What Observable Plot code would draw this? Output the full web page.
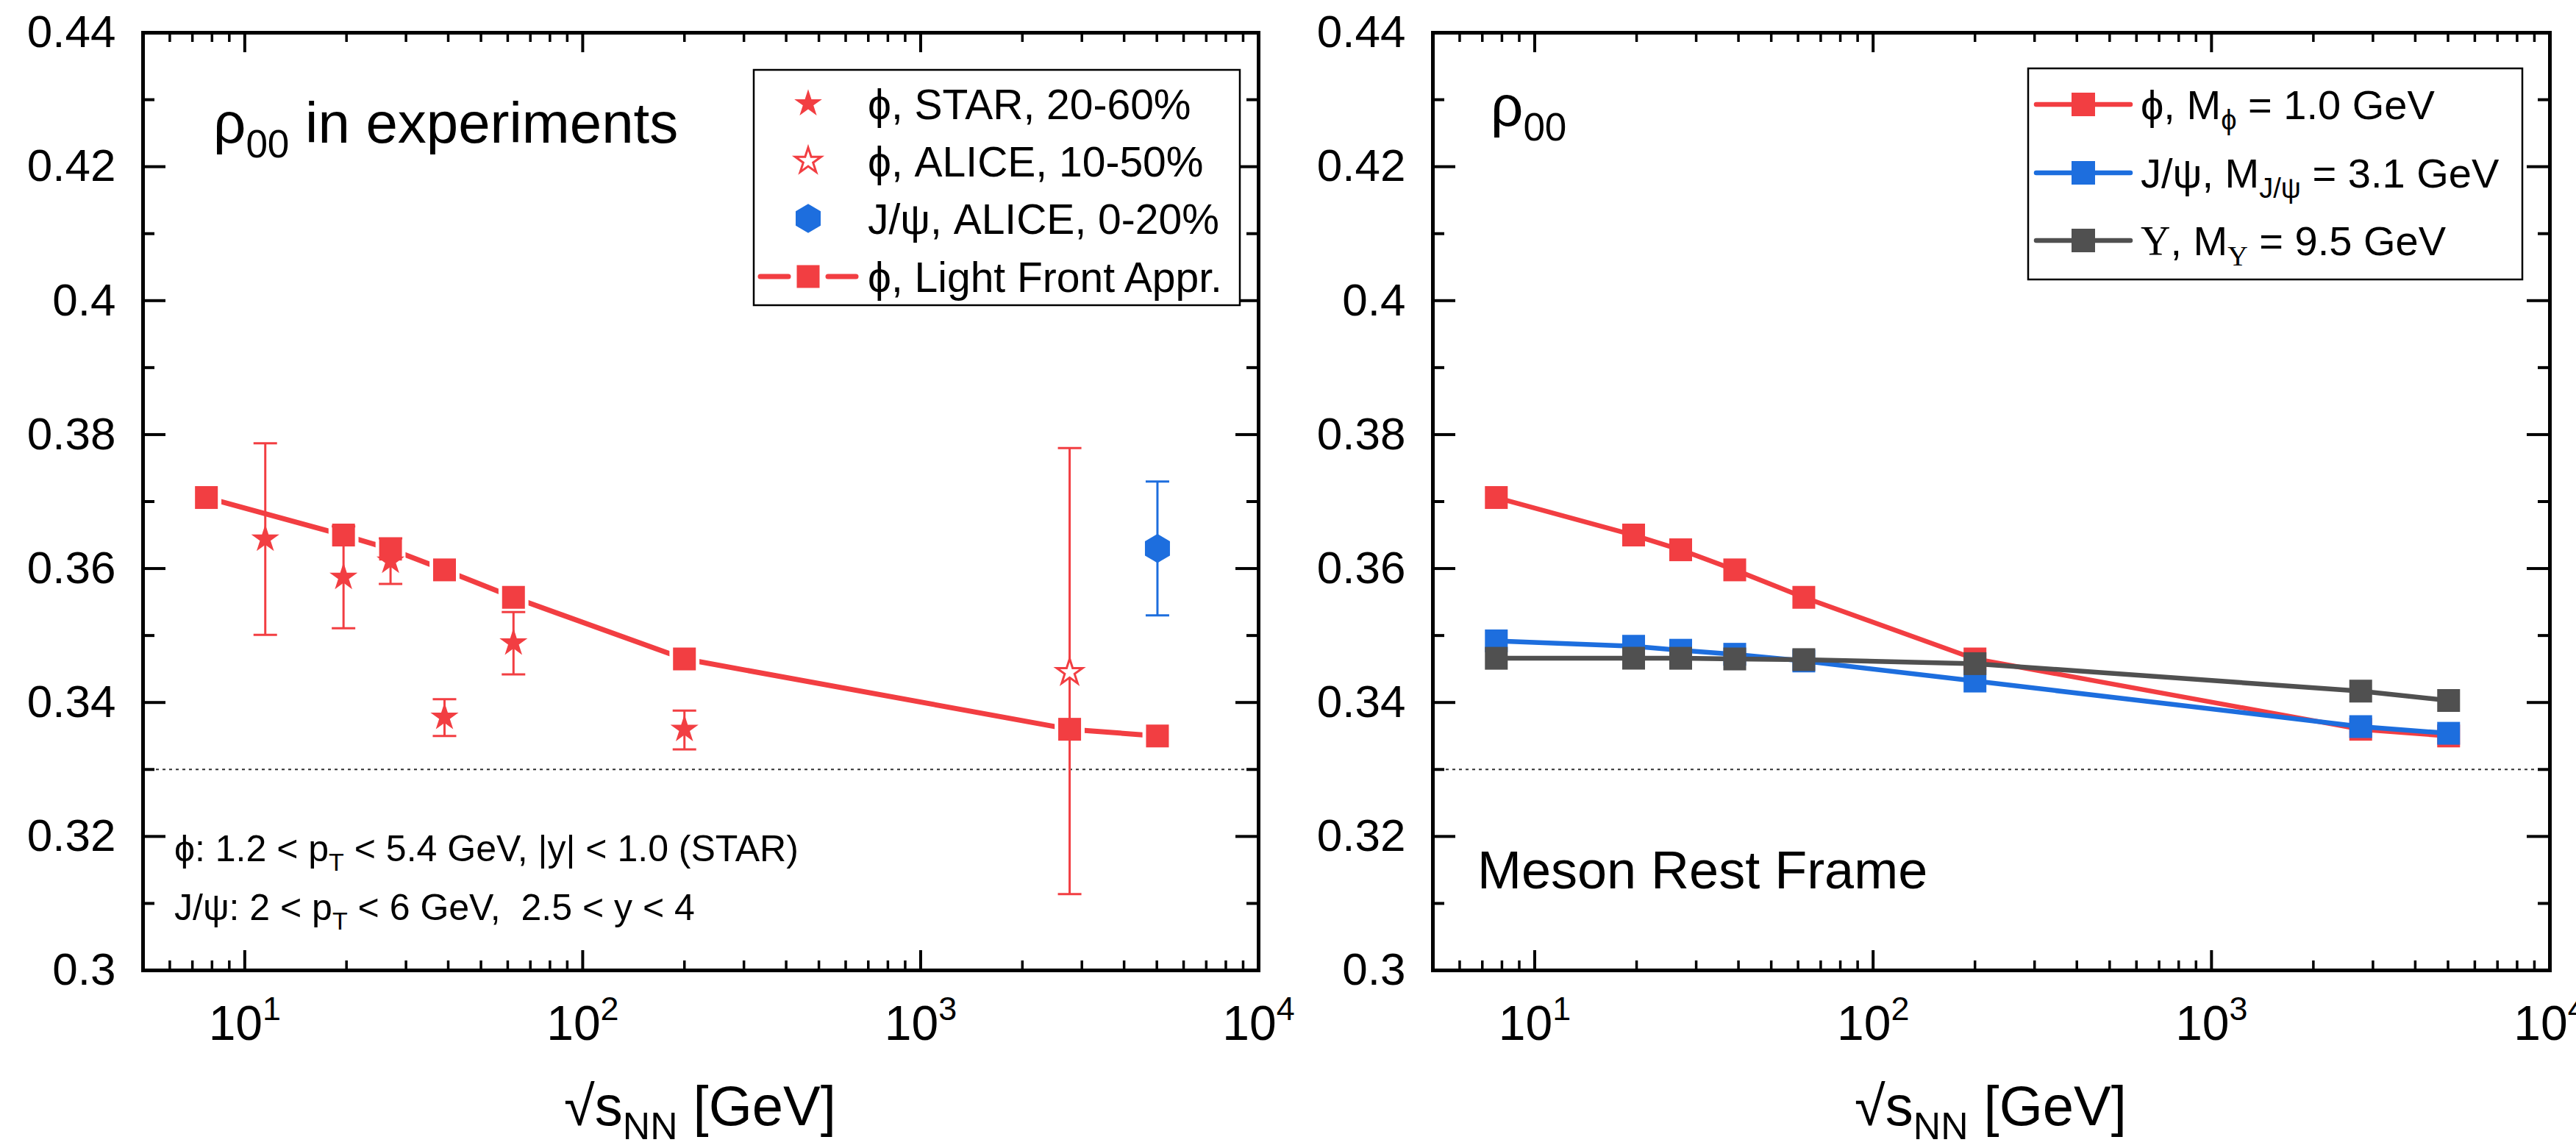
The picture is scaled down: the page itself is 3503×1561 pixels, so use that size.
<!DOCTYPE html>
<html><head><meta charset="utf-8">
<script src="https://cdn.jsdelivr.net/npm/d3@7"></script>
<script src="https://cdn.jsdelivr.net/npm/@observablehq/plot@0.6"></script>
<style>
html,body{margin:0;padding:0;background:#fff;overflow:hidden;width:3503px;height:1561px;}
#row{display:flex;flex-direction:row;width:3503px;height:1561px;}
#row svg{flex:none;}
</style></head><body><div id="row"></div>
<script>
const FONT = "'Liberation Sans', Arial, Helvetica, sans-serif";
const SERIF = "'Liberation Serif', 'DejaVu Serif', serif";
const RED = "#f23e42", BLUE = "#1d6ede", GRAY = "#505050";

// ---- data ----
const energyLFA = [7.7, 19.6, 27, 39, 62.4, 200, 2760, 5020];
const rhoPhiLFA = [0.3706, 0.3650, 0.3629, 0.3598, 0.3557, 0.3465, 0.3360, 0.3350];

const starEnergy = [11.5, 19.6, 27, 39, 62.4, 200];
const starRho    = [0.3644, 0.3587, 0.3611, 0.3378, 0.3489, 0.3360];
const starLo     = [0.3501, 0.3511, 0.3577, 0.3350, 0.3442, 0.3330];
const starHi     = [0.3787, 0.3663, 0.3645, 0.3405, 0.3535, 0.3388];

const aliceEnergy = [2760];
const aliceRho = [0.3445];
const aliceLo = [0.3114];
const aliceHi = [0.3780];

const jpsiEnergy = [5020];
const jpsiRho = [0.3630];
const jpsiLo = [0.3530];
const jpsiHi = [0.3730];

const energyMRF = [7.7, 19.6, 27, 39, 62.4, 200, 2760, 5020];
const rhoPhiMRF  = [0.3706, 0.3650, 0.3628, 0.3598, 0.3557, 0.3465, 0.3360, 0.3350];
const rhoJpsiMRF = [0.3492, 0.3484, 0.3478, 0.3472, 0.3462, 0.3432, 0.3364, 0.3354];
const rhoUpsMRF  = [0.3466, 0.3466, 0.3466, 0.3465, 0.3464, 0.3458, 0.3417, 0.3403];

const yTicks = [0.3, 0.32, 0.34, 0.36, 0.38, 0.4, 0.42, 0.44];
const yMinor = [0.31, 0.33, 0.35, 0.37, 0.39, 0.41, 0.43];
const xTicks = [10, 100, 1000, 10000];
const xMinor = [6, 7, 8, 9, 20, 30, 40, 50, 60, 70, 80, 90, 200, 300, 400, 500, 600, 700, 800, 900, 2000, 3000, 4000, 5000, 6000, 7000, 8000, 9000];

const zip = (xs, ys, extra = {}) => xs.map((x, i) => {
  const o = {x, y: ys[i]};
  for (const k in extra) o[k] = extra[k][i];
  return o;
});
const lfa = zip(energyLFA, rhoPhiLFA);
const star = zip(starEnergy, starRho, {lo: starLo, hi: starHi});
const alice = zip(aliceEnergy, aliceRho, {lo: aliceLo, hi: aliceHi});
const jpsi = zip(jpsiEnergy, jpsiRho, {lo: jpsiLo, hi: jpsiHi});
const mrfPhi = zip(energyMRF, rhoPhiMRF);
const mrfJpsi = zip(energyMRF, rhoJpsiMRF);
const mrfUps = zip(energyMRF, rhoUpsMRF);

// ---- helpers ----
const capSym = {draw(ctx) { ctx.moveTo(-16, 0); ctx.lineTo(16, 0); }};

function richInto(t, str, fs) {
  const re = /([_^])\{([^}]*)\}|([^_^]+)/g;
  let m, off = 0;
  while ((m = re.exec(str)) !== null) {
    let text, size, target;
    if (m[1]) { text = m[2]; size = fs * 0.68; target = m[1] === "_" ? fs * 0.25 : -fs * 0.42; }
    else { text = m[3]; size = fs; target = 0; }
    text.split(/(Υ)/).filter(s => s.length).forEach((p, i) => {
      const sp = t.append("tspan").attr("font-size", size).text(p);
      if (i === 0 && Math.abs(target - off) > 1e-6) { sp.attr("dy", target - off); off = target; }
      if (p === "Υ") sp.attr("font-family", SERIF);
    });
  }
}
function addText(sel, x, y, str, fs, anchor = "start") {
  const t = sel.append("text").attr("x", x).attr("y", y)
    .attr("font-size", fs).attr("font-family", FONT)
    .attr("text-anchor", anchor).attr("fill", "black");
  richInto(t, str, fs);
  return t;
}

function panel({width, marginLeft, marginRight, marks}) {
  const H = 1561, mt = 44, mb = 242;
  const fh = H - mt - mb, fw = width - marginLeft - marginRight;
  const svg = Plot.plot({
    width, height: H, marginTop: mt, marginBottom: mb, marginLeft, marginRight,
    x: {type: "log", domain: [5, 10000]},
    y: {domain: [0.3, 0.44]},
    style: {fontFamily: FONT, color: "black", background: "transparent", overflow: "visible", maxWidth: "none"},
    marks: [
      Plot.ruleY([0.33], {stroke: "#333", strokeWidth: 2, strokeDasharray: "4,5"}),
      ...marks,
      Plot.ruleX(xTicks, {x: d => d, insetTop: fh - 27, strokeWidth: 4, stroke: "black"}),
      Plot.ruleX(xTicks, {x: d => d, insetBottom: fh - 27, strokeWidth: 4, stroke: "black"}),
      Plot.ruleX(xMinor, {x: d => d, insetTop: fh - 13, strokeWidth: 3.5, stroke: "black"}),
      Plot.ruleX(xMinor, {x: d => d, insetBottom: fh - 13, strokeWidth: 3.5, stroke: "black"}),
      Plot.ruleY(yTicks, {y: d => d, insetRight: fw - 31, strokeWidth: 4, stroke: "black"}),
      Plot.ruleY(yTicks, {y: d => d, insetLeft: fw - 31, strokeWidth: 4, stroke: "black"}),
      Plot.ruleY(yMinor, {y: d => d, insetRight: fw - 16, strokeWidth: 4, stroke: "black"}),
      Plot.ruleY(yMinor, {y: d => d, insetLeft: fw - 16, strokeWidth: 4, stroke: "black"}),
      Plot.frame({stroke: "black", strokeWidth: 5}),
      Plot.axisY({ticks: yTicks, tickSize: 0, tickPadding: 37, tickFormat: d3.format("~g"), fontSize: 62, label: null}),
      Plot.axisX({ticks: xTicks, tickSize: 0, tickPadding: 48, tickFormat: d => `10^{${Math.round(Math.log10(d))}}`, fontSize: 66, label: null})
    ]
  });
  d3.select(svg).selectAll("text").filter(function () { return /\^\{/.test(this.textContent); })
    .each(function () { const s = this.textContent; const t = d3.select(this); t.text(null); richInto(t, s, 66); });
  return svg;
}

// ---- left panel ----
const left = panel({
  width: 1750, marginLeft: 194, marginRight: 39,
  marks: [
    Plot.line(lfa, {x: "x", y: "y", stroke: RED, strokeWidth: 7, strokeLinecap: "round"}),
    Plot.dot(lfa, {x: "x", y: "y", symbol: "square", r: 23, fill: "white"}),
    Plot.ruleX(star, {x: "x", y1: "lo", y2: "hi", stroke: RED, strokeWidth: 3}),
    Plot.dot(star, {x: "x", y: "lo", symbol: capSym, r: 1, stroke: RED, strokeWidth: 3, fill: "none"}),
    Plot.dot(star, {x: "x", y: "hi", symbol: capSym, r: 1, stroke: RED, strokeWidth: 3, fill: "none"}),
    Plot.ruleX(alice, {x: "x", y1: "lo", y2: "hi", stroke: RED, strokeWidth: 3}),
    Plot.dot(alice, {x: "x", y: "lo", symbol: capSym, r: 1, stroke: RED, strokeWidth: 3, fill: "none"}),
    Plot.dot(alice, {x: "x", y: "hi", symbol: capSym, r: 1, stroke: RED, strokeWidth: 3, fill: "none"}),
    Plot.ruleX(jpsi, {x: "x", y1: "lo", y2: "hi", stroke: BLUE, strokeWidth: 3}),
    Plot.dot(jpsi, {x: "x", y: "lo", symbol: capSym, r: 1, stroke: BLUE, strokeWidth: 3, fill: "none"}),
    Plot.dot(jpsi, {x: "x", y: "hi", symbol: capSym, r: 1, stroke: BLUE, strokeWidth: 3, fill: "none"}),
    Plot.dot(star, {x: "x", y: "y", symbol: "star", r: 12, fill: RED}),
    Plot.dot(alice, {x: "x", y: "y", symbol: "star", r: 11, fill: "white", stroke: RED, strokeWidth: 3}),
    Plot.dot(jpsi, {x: "x", y: "y", symbol: "hexagon", r: 17, fill: BLUE}),
    Plot.dot(lfa, {x: "x", y: "y", symbol: "square", r: 17.5, fill: RED})
  ]
});

// ---- right panel ----
const right = panel({
  width: 1753, marginLeft: 198, marginRight: 36,
  marks: [
    Plot.line(mrfPhi, {x: "x", y: "y", stroke: RED, strokeWidth: 6.5}),
    Plot.dot(mrfPhi, {x: "x", y: "y", symbol: "square", r: 17.5, fill: RED}),
    Plot.line(mrfJpsi, {x: "x", y: "y", stroke: BLUE, strokeWidth: 6.5}),
    Plot.dot(mrfJpsi, {x: "x", y: "y", symbol: "square", r: 17.5, fill: BLUE}),
    Plot.line(mrfUps, {x: "x", y: "y", stroke: GRAY, strokeWidth: 6.5}),
    Plot.dot(mrfUps, {x: "x", y: "y", symbol: "square", r: 17.5, fill: GRAY})
  ]
});

document.getElementById("row").append(left, right);

// ---- left annotations & legend ----
{
  const s = d3.select(left);
  addText(s, 290, 194, "ρ_{00} in experiments", 78);
  addText(s, 237, 1171, "ϕ: 1.2 < p_{T} < 5.4 GeV, |y| < 1.0 (STAR)", 50);
  addText(s, 237, 1251, "J/ψ: 2 < p_{T} < 6 GeV,  2.5 < y < 4", 50);
  addText(s, 952, 1530, "√s_{NN} [GeV]", 76, "middle");
  const g = s.append("g");
  g.append("rect").attr("x", 1025).attr("y", 95).attr("width", 661).attr("height", 320)
    .attr("fill", "white").attr("stroke", "black").attr("stroke-width", 2.5);
  const sx = 1099, tx = 1180;
  const rows = [162, 240, 318, 397];
  g.append("path").attr("d", d3.symbol(d3.symbolStar, 440)()).attr("transform", `translate(${sx},${rows[0] - 21})`).attr("fill", RED);
  g.append("path").attr("d", d3.symbol(d3.symbolStar, 380)()).attr("transform", `translate(${sx},${rows[1] - 21})`)
    .attr("fill", "white").attr("stroke", RED).attr("stroke-width", 3);
  const rx = 17, ry = rx * 2 / Math.sqrt(3);
  g.append("path").attr("d", `M0,${-ry}L${rx},${-ry / 2}L${rx},${ry / 2}L0,${ry}L${-rx},${ry / 2}L${-rx},${-ry / 2}Z`)
    .attr("transform", `translate(${sx},${rows[2] - 21})`).attr("fill", BLUE);
  const ly = rows[3] - 21;
  g.append("line").attr("x1", 1034).attr("x2", 1072).attr("y1", ly).attr("y2", ly)
    .attr("stroke", RED).attr("stroke-width", 7).attr("stroke-linecap", "round");
  g.append("line").attr("x1", 1126).attr("x2", 1164).attr("y1", ly).attr("y2", ly)
    .attr("stroke", RED).attr("stroke-width", 7).attr("stroke-linecap", "round");
  g.append("rect").attr("x", sx - 15.5).attr("y", ly - 15.5).attr("width", 31).attr("height", 31).attr("fill", RED);
  const labels = ["ϕ, STAR, 20-60%", "ϕ, ALICE, 10-50%", "J/ψ, ALICE, 0-20%", "ϕ, Light Front Appr."];
  labels.forEach((l, i) => addText(g, tx, rows[i], l, 57));
}

// ---- right annotations & legend ----
{
  const s = d3.select(right);
  addText(s, 277, 171, "ρ_{00}", 78);
  addText(s, 259, 1208, "Meson Rest Frame", 72);
  addText(s, 957, 1530, "√s_{NN} [GeV]", 76, "middle");
  const g = s.append("g");
  g.append("rect").attr("x", 1008).attr("y", 93).attr("width", 672).attr("height", 287)
    .attr("fill", "white").attr("stroke", "black").attr("stroke-width", 2.5);
  const cols = [RED, BLUE, GRAY];
  const lineY = [142, 235, 327];
  const base = [162, 255, 347];
  const labels = ["ϕ, M_{ϕ} = 1.0 GeV", "J/ψ, M_{J/ψ} = 3.1 GeV", "Υ, M_{Υ} = 9.5 GeV"];
  cols.forEach((c, i) => {
    g.append("line").attr("x1", 1019).attr("x2", 1147).attr("y1", lineY[i]).attr("y2", lineY[i])
      .attr("stroke", c).attr("stroke-width", 6.5).attr("stroke-linecap", "round");
    g.append("rect").attr("x", 1083 - 16).attr("y", lineY[i] - 16).attr("width", 32).attr("height", 32).attr("fill", c);
    addText(g, 1161, base[i], labels[i], 56);
  });
}
</script></body></html>
